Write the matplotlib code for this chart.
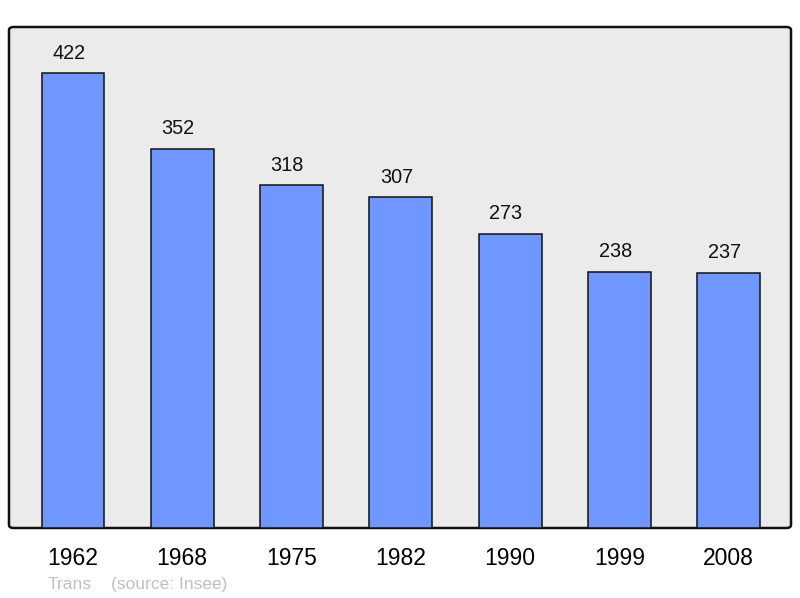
import matplotlib
matplotlib.use("Agg")
import matplotlib.pyplot as plt
from matplotlib.patches import FancyBboxPatch

years = ["1962", "1968", "1975", "1982", "1990", "1999", "2008"]
population = [422, 352, 318, 307, 273, 238, 237]

plt.rcParams['font.family'] = ['Liberation Sans', 'DejaVu Sans']

fig = plt.figure(figsize=(8.0, 5.98), dpi=100)
ax = fig.add_axes([9/800, 1-528/598, 782/800, (528-27)/598])
ax.set_xlim(-0.585, 6.57)
ax.set_ylim(0, 465)
ax.patch.set_visible(False)
for s in ax.spines.values():
    s.set_visible(False)

frame = FancyBboxPatch((0, 0), 1, 1, boxstyle="round,pad=0,rounding_size=0.006",
                       transform=ax.transAxes, facecolor="#ebebeb",
                       edgecolor="#111111", linewidth=1.8, zorder=0, clip_on=False)
ax.add_patch(frame)

x = list(range(len(years)))
bars = ax.bar(x, population, width=0.575, color="#7096ff", edgecolor="#111111",
              linewidth=1.1, zorder=2)
for xi, v in zip(x, population):
    ax.annotate(str(v), (xi, v), xytext=(-3, 10.5), textcoords="offset points",
                ha="center", va="baseline", fontsize=14.3, color="#111111")

ax.set_xticks(x, labels=years, fontsize=16.5)
ax.tick_params(axis="x", length=0, pad=14)
ax.set_yticks([])

fig.text(48/800, 1-589/598, "Trans", fontsize=12.5, color="#c0c0c0", va="baseline")
fig.text(111/800, 1-589/598, "(source: Insee)", fontsize=12.5, color="#c0c0c0", va="baseline")

fig.savefig("out.png", dpi=100)
